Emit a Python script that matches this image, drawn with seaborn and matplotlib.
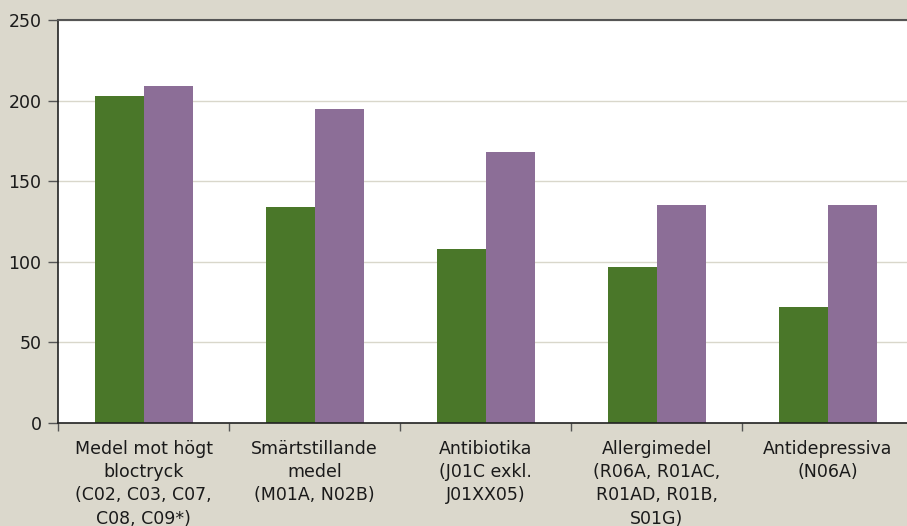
import matplotlib
matplotlib.use("Agg")
import matplotlib.pyplot as plt
import numpy as np
import pandas as pd
import seaborn as sns

categories = [
    "Medel mot högt\nbloctryck\n(C02, C03, C07,\nC08, C09*)",
    "Smärtstillande\nmedel\n(M01A, N02B)",
    "Antibiotika\n(J01C exkl.\nJ01XX05)",
    "Allergimedel\n(R06A, R01AC,\nR01AD, R01B,\nS01G)",
    "Antidepressiva\n(N06A)",
]
series_names = ["Serie 1", "Serie 2"]
series_1 = [203, 134, 108, 97, 72]
series_2 = [209, 195, 168, 135, 135]
y_ticks = [0, 50, 100, 150, 200, 250]

df = pd.DataFrame({
    "kategori": categories * 2,
    "serie": [series_names[0]] * len(categories) + [series_names[1]] * len(categories),
    "värde": series_1 + series_2,
})

bg = "#DBD8CC"
sns.set_style("white")
plt.rcParams["font.family"] = ["DejaVu Sans"]

fig = plt.figure(figsize=(9.07, 5.26), dpi=100, facecolor=bg)
ax = fig.add_axes([0.064, 0.196, 0.943, 0.766])
ax.set_facecolor("white")

sns.barplot(
    data=df, x="kategori", y="värde", hue="serie",
    palette=["#4A7729", "#8C6E97"], width=0.573, saturation=1,
    edgecolor="none", ax=ax, legend=False,
)

ax.set_ylim(0, 250)
ax.set_xlim(-0.5, len(categories) - 0.5)
ax.set_yticks(y_ticks)
ax.yaxis.grid(True, color="#D9D7CB", linewidth=1)
ax.set_axisbelow(True)
ax.set_xlabel("")
ax.set_ylabel("")

ax.set_xticks(np.arange(len(categories)))
ax.set_xticklabels(categories, fontsize=12.5, color="#1a1a1a", linespacing=1.38)
ax.set_xticks(np.arange(len(categories) + 1) - 0.5, minor=True)
ax.tick_params(axis="x", which="major", bottom=True, length=0, pad=12)
ax.tick_params(axis="x", which="minor", bottom=True, length=6, width=1,
               color="#555555", direction="out")
ax.tick_params(axis="y", which="major", left=True, length=7, width=1, color="#555555",
               direction="out", labelsize=12.5, labelcolor="#1a1a1a", pad=5)

for side in ["left", "bottom"]:
    ax.spines[side].set_color("#222222")
    ax.spines[side].set_linewidth(1.2)
ax.spines["top"].set_color("#555555")
ax.spines["top"].set_linewidth(1.5)
ax.spines["right"].set_visible(False)

fig.savefig("out.png", dpi=100, facecolor=bg)
